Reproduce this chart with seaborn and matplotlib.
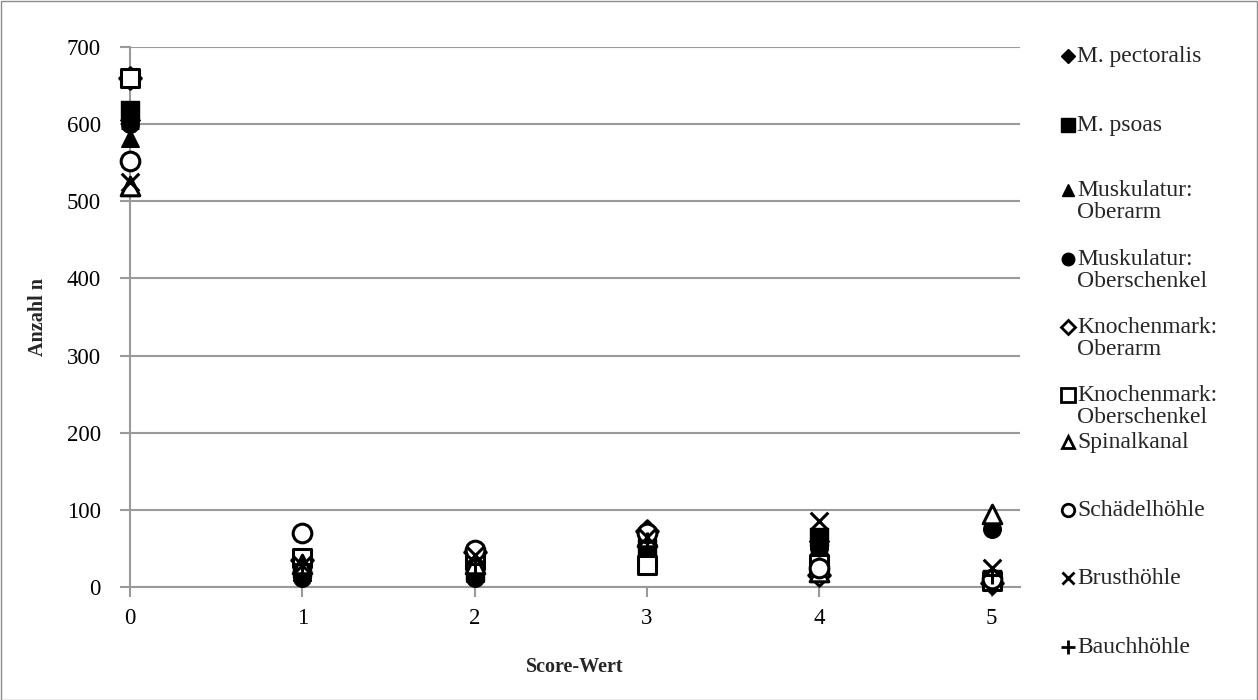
import matplotlib
matplotlib.use("Agg")
import matplotlib.pyplot as plt
from matplotlib.lines import Line2D
from matplotlib.patches import Rectangle
import seaborn as sns
import pandas as pd

sns.set_theme(style="white")
plt.rcParams['font.family'] = ['Liberation Serif', 'DejaVu Serif']

scores = [0, 1, 2, 3, 4, 5]
series_names = ["M. pectoralis", "M. psoas", "Muskulatur:\nOberarm",
                "Muskulatur:\nOberschenkel", "Knochenmark:\nOberarm",
                "Knochenmark:\nOberschenkel", "Spinalkanal", "Schädelhöhle",
                "Brusthöhle", "Bauchhöhle"]
m_pectoralis = [605, 30, 25, 55, 60, 10]
m_psoas = [618, 25, 20, 50, 65, 10]
musk_oberarm = [582, 20, 18, 60, 55, 8]
musk_oberschenkel = [600, 12, 12, 45, 50, 75]
km_oberarm = [660, 35, 45, 72, 15, 5]
km_oberschenkel = [660, 37, 35, 28, 30, 8]
spinalkanal = [520, 30, 30, 65, 20, 95]
schaedelhoehle = [552, 70, 48, 70, 25, 10]
brusthoehle = [525, 28, 42, 65, 85, 25]
bauchhoehle = [595, 30, 30, 60, 50, 15]
values = [m_pectoralis, m_psoas, musk_oberarm, musk_oberschenkel, km_oberarm,
          km_oberschenkel, spinalkanal, schaedelhoehle, brusthoehle, bauchhoehle]
y_ticks = [0, 100, 200, 300, 400, 500, 600, 700]

# style: (marker, filled, size)
styles = [("D", True, 100), ("s", True, 160), ("^", True, 160), ("o", True, 160),
          ("D", False, 120), ("s", False, 180), ("^", False, 180), ("o", False, 180),
          ("x", None, 160), ("+", None, 180)]

W, H = 1258, 700
fig = plt.figure(figsize=(W / 100, H / 100), dpi=100)
ax = fig.add_axes([130 / W, 1 - 587 / H, (1020 - 130) / W, (587 - 47) / H])

for name, vals, (mk, filled, s) in zip(series_names, values, styles):
    df = pd.DataFrame({"x": scores, "y": vals})
    if filled is None:
        sns.scatterplot(data=df, x="x", y="y", marker=mk, s=s, color="black",
                        linewidth=2.2, ax=ax, zorder=3)
    elif filled:
        sns.scatterplot(data=df, x="x", y="y", marker=mk, s=s, color="black",
                        edgecolor="black", linewidth=1, ax=ax, zorder=3)
    else:
        sns.scatterplot(data=df, x="x", y="y", marker=mk, s=s, facecolor="white",
                        edgecolor="black", linewidth=2.2, ax=ax, zorder=3)
for coll in ax.collections:
    coll.set_clip_on(False)

ax.set_xlim(0, 5.165)
ax.set_ylim(0, 700)
ax.set_xticks(scores)
ax.set_yticks(y_ticks)
ax.yaxis.grid(True, color="#9a9a9a", linewidth=1.5)
ax.xaxis.grid(False)
for side in ["top", "right"]:
    ax.spines[side].set_visible(False)
for side in ["left", "bottom"]:
    ax.spines[side].set_color("#9a9a9a")
    ax.spines[side].set_linewidth(1.5)
ax.tick_params(axis="both", which="both", direction="out", length=7, width=1.5,
               color="#9a9a9a", labelsize=16.5, labelcolor="black",
               left=True, bottom=True)
ax.tick_params(axis="y", pad=14)
ax.tick_params(axis="x", pad=8)
ax.set_xlabel("Score-Wert", fontsize=14.5, fontweight="bold", labelpad=20)
ax.set_ylabel("Anzahl n", fontsize=14.5, fontweight="bold")
ax.yaxis.set_label_coords(-(130 - 48) / (1020 - 130), 0.5)

# legend, placed manually in figure pixel positions
leg_y = [55, 124, 189, 258, 326, 394, 441, 509, 577, 646]
leg_sizes = {"D": 7, "s": 10, "^": 9, "o": 9, "x": 9, "+": 10}
for name, (mk, filled, s), yp in zip(series_names, styles, leg_y):
    yf = 1 - yp / H
    if filled is None:
        kw = dict(color="black", markeredgewidth=2)
    elif filled:
        kw = dict(markerfacecolor="black", markeredgecolor="black")
    else:
        kw = dict(markerfacecolor="white", markeredgecolor="black", markeredgewidth=2)
    fig.add_artist(Line2D([1068 / W], [yf - 1 / H], marker=mk, linestyle="none",
                          markersize=leg_sizes[mk], transform=fig.transFigure, **kw))
    fig.text(1077 / W, yf + 9 / H, name, fontsize=17, va="top", ha="left",
             linespacing=1.05)

fig.add_artist(Rectangle((0.5 / W, 0.5 / H), 1 - 1.5 / W, 1 - 1.5 / H, fill=False,
                         edgecolor="#8c8c8c", linewidth=1, transform=fig.transFigure))

fig.savefig("out.png", dpi=100)
